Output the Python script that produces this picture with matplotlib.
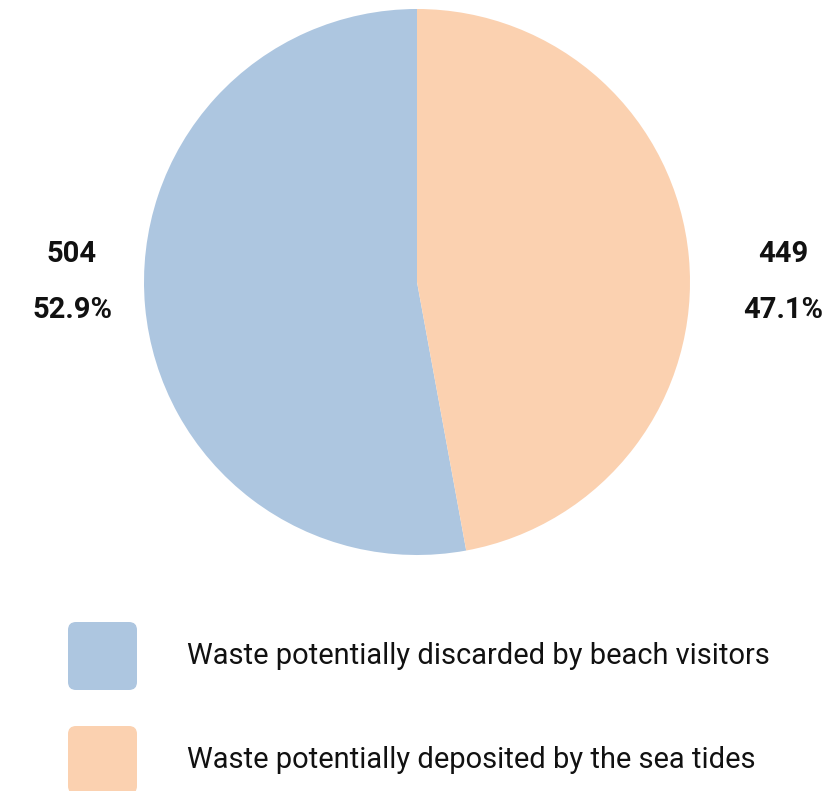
import matplotlib
matplotlib.use('Agg')
import matplotlib.pyplot as plt
from matplotlib.patches import FancyBboxPatch

plt.rcParams['font.family'] = ['Roboto', 'DejaVu Sans']

labels = ['Waste potentially discarded by beach visitors',
          'Waste potentially deposited by the sea tides']
counts = [504, 449]
colors = ['#adc6e0', '#fbd1b0']

W, H = 840, 791
fig = plt.figure(figsize=(W / 100, H / 100), dpi=100)

# pie axes (pixel box: center 417,282 radius 273)
cx, cy, r = 417, 282, 273
ax = fig.add_axes([(cx - r) / W, (H - cy - r) / H, 2 * r / W, 2 * r / H])
ax.pie(counts, colors=colors, startangle=90, counterclock=True, radius=1,
       wedgeprops=dict(linewidth=0))
ax.set_xlim(-1, 1)
ax.set_ylim(-1, 1)
ax.set_aspect('auto')
ax.axis('off')

# overlay for labels and legend in pixel coords
ov = fig.add_axes([0, 0, 1, 1])
ov.set_xlim(0, W)
ov.set_ylim(H, 0)
ov.axis('off')
ov.patch.set_alpha(0)

total = sum(counts)
label_x = [72, 783]
for i, c in enumerate(counts):
    ov.text(label_x[i], 254, str(c), ha='center', va='center',
            fontsize=21, fontweight='bold', color='#111111')
    ov.text(label_x[i], 310, '%.1f%%' % (100 * c / total), ha='center', va='center',
            fontsize=21, fontweight='bold', color='#111111')

leg_y = [656, 760]
for i, lab in enumerate(labels):
    box = FancyBboxPatch((68 + 8, leg_y[i] - 34 + 8), 69 - 16, 68 - 16,
                         boxstyle='round,pad=8', facecolor=colors[i], edgecolor='none')
    ov.add_patch(box)
    ov.text(187, leg_y[i], lab, ha='left', va='center', fontsize=20.9, color='#111111')

fig.savefig('out.png', dpi=100)
